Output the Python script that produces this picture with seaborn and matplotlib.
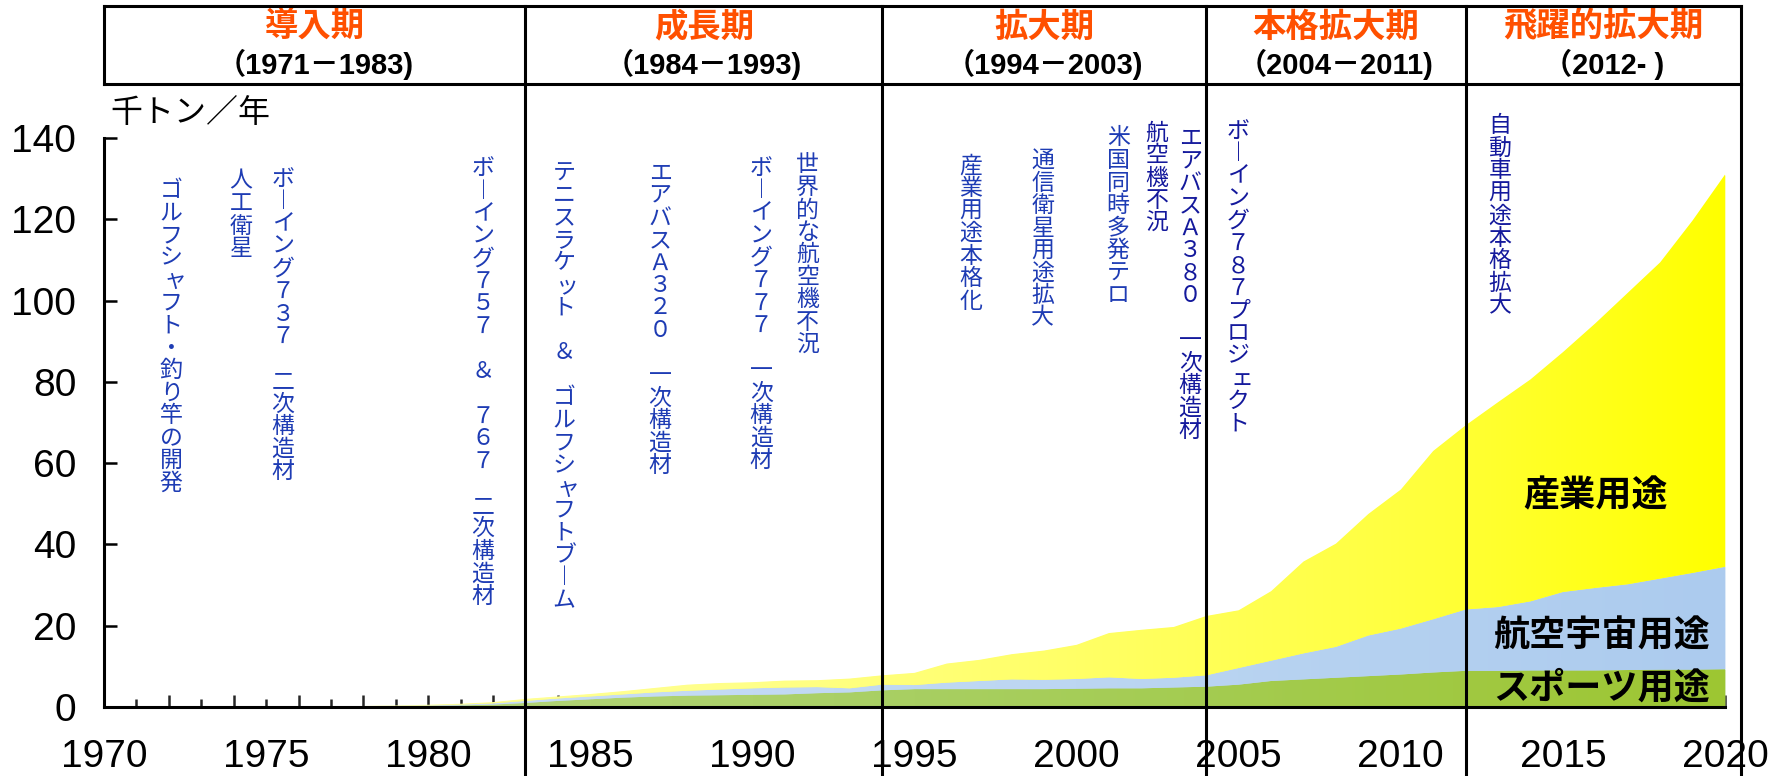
import numpy as np
import matplotlib
matplotlib.use("Agg")
import matplotlib.pyplot as plt
import matplotlib.transforms as mtransforms
from matplotlib.colors import to_rgb
import seaborn as sns

# ---------------------------------------------------------------- data
years = list(range(1970, 2021))

# carbon fibre demand, thousand tonnes per year, by application
sports = [0.0, 0.0, 0.02, 0.03, 0.05, 0.07, 0.1, 0.12, 0.15, 0.2,
          0.3, 0.4, 0.6, 1.0, 1.5, 1.9, 2.3, 2.6, 2.8, 2.9,
          3.0, 3.1, 3.4, 3.6, 4.1, 4.4, 4.4, 4.4, 4.4, 4.4,
          4.5, 4.6, 4.6, 4.8, 5.0, 5.5, 6.4, 6.8, 7.2, 7.6,
          8.0, 8.5, 8.9, 8.9, 9.0, 9.0, 9.0, 9.1, 9.2, 9.2,
          9.3]
aerospace = [0.0, 0.0, 0.0, 0.0, 0.02, 0.03, 0.05, 0.05, 0.05, 0.1,
             0.1, 0.2, 0.3, 0.5, 0.6, 0.7, 0.8, 1.0, 1.2, 1.4,
             1.6, 1.7, 1.5, 1.0, 1.4, 1.0, 1.6, 2.0, 2.4, 2.3,
             2.4, 2.7, 2.3, 2.4, 2.8, 4.1, 5.0, 6.4, 7.6, 10.0,
             11.3, 13.1, 15.1, 15.7, 17.0, 19.3, 20.3, 21.1, 22.4, 23.8,
             25.2]
industrial = [0.0, 0.0, 0.0, 0.0, 0.0, 0.0, 0.0, 0.03, 0.05, 0.1,
              0.15, 0.2, 0.3, 0.5, 0.5, 0.6, 0.8, 1.1, 1.5, 1.6,
              1.5, 1.7, 1.7, 2.4, 2.3, 3.0, 4.7, 5.2, 6.2, 7.2,
              8.4, 10.9, 12.1, 12.5, 14.6, 14.2, 17.1, 22.6, 25.4, 29.9,
              34.2, 41.4, 45.3, 50.4, 54.6, 59.0, 65.1, 71.7, 77.8, 86.7,
              96.5]
series_names = ["スポーツ用途", "航空宇宙用途", "産業用途"]

period_names = ["導入期", "成長期", "拡大期", "本格拡大期", "飛躍的拡大期"]
period_ranges = ["（1971－1983)", "（1984－1993)", "（1994－2003)",
                 "（2004－2011)", "（2012- )"]
period_edges = [1970, 1983, 1994, 2004, 2012, 2020.5]

y_ticks = [0, 20, 40, 60, 80, 100, 120, 140]
x_label_years = [1970, 1975, 1980, 1985, 1990, 1995, 2000, 2005, 2010, 2015, 2020]

events = ["ゴルフシャフト・釣り竿の開発", "人工衛星", "ボーイング７３７　二次構造材",
          "ボーイング７５７　＆　７６７　二次構造材",
          "テニスラケット　＆　ゴルフシャフトブーム", "エアバスＡ３２０　一次構造材",
          "ボーイング７７７　一次構造材", "世界的な航空機不況", "産業用途本格化",
          "通信衛星用途拡大", "米国同時多発テロ", "航空機不況",
          "エアバスＡ３８０　一次構造材", "ボーイング７８７プロジェクト",
          "自動車用途本格拡大"]

# ---------------------------------------------------------------- layout / style
event_x = [1972.07, 1974.23, 1975.52, 1981.69, 1984.19, 1987.15, 1990.27,
           1991.71, 1996.74, 1998.96, 2001.28, 2002.48, 2003.50, 2004.98,
           2013.06]
event_y = [127.0, 129.4, 129.9, 132.4, 131.4, 131.4, 132.6, 133.4, 133.1,
           134.4, 140.0, 141.2, 140.0, 141.7, 143.0]
BLUE = "#1e3cb4"
NAVY = "#14199c"
event_colors = [BLUE] * 11 + [NAVY, NAVY, NAVY, NAVY]

gradient_stops = [
    [(1970, "#bcd98a"), (1995, "#a8cf62"), (2020, "#9dc632")],   # sports
    [(1970, "#d0e2f6"), (2000, "#bcd6f2"), (2020, "#accbee")],   # aerospace
    [(1970, "#ffffa8"), (1990, "#ffff88"), (2000, "#ffff66"),
     (2010, "#ffff40"), (2020, "#ffff00")],                      # industrial
]

sns.set_theme(style="ticks")
CJK = ["Noto Sans CJK JP", "DejaVu Sans"]
NUM = ["Liberation Sans Narrow", "Liberation Sans", "DejaVu Sans"]
LAT = ["Liberation Sans", "Noto Sans CJK JP", "DejaVu Sans"]
plt.rcParams["font.family"] = CJK
plt.rcParams["axes.unicode_minus"] = False

W, H = 1770, 776
fig = plt.figure(figsize=(W / 100, H / 100), dpi=100)
fig.patch.set_facecolor("white")

x0_px, x1_px, y0_px, y1_px = 104, 1725, 707, 138
ax = fig.add_axes([x0_px / W, (H - y0_px) / H, (x1_px - x0_px) / W, (y0_px - y1_px) / H])
ax.set_facecolor("white")


def px_to_axfrac(y_px):
    return (y0_px - y_px) / (y0_px - y1_px)


# ---------------------------------------------------------------- stacked areas
polys = ax.stackplot(years, sports, aerospace, industrial,
                     colors=[s[len(s) // 2][1] for s in gradient_stops],
                     linewidth=0, zorder=2)

xs = np.linspace(1970, 2020, 400)
for poly, stops in zip(polys, gradient_stops):
    sx = [p[0] for p in stops]
    cols = np.array([to_rgb(p[1]) for p in stops])
    rgb = np.stack([np.interp(xs, sx, cols[:, k]) for k in range(3)], axis=-1)
    img = ax.imshow(rgb[None, :, :], extent=[1970, 2020, 0, 140], aspect="auto",
                    origin="lower", interpolation="bilinear", zorder=2.1)
    img.set_clip_path(poly.get_paths()[0], transform=ax.transData)

ax.set_xlim(1970, 2020)
ax.set_ylim(0, 140)

# ---------------------------------------------------------------- axes
sns.despine(ax=ax, top=True, right=True)
for side in ("left", "bottom"):
    ax.spines[side].set_linewidth(2.2)
    ax.spines[side].set_color("black")
    ax.spines[side].set_zorder(5)

ax.set_yticks(y_ticks, labels=[str(v) for v in y_ticks], fontsize=28, family=NUM)
ax.tick_params(axis="y", direction="in", length=9, width=1.8, pad=20, colors="black")

ax.set_xticks([y for y in years if y % 2 == 0], labels=[])
ax.set_xticks([y for y in years if y % 2 == 1], minor=True)
ax.tick_params(axis="x", which="major", direction="in", length=9, width=1.8)
ax.tick_params(axis="x", which="minor", direction="in", length=6, width=1.8)

sec = ax.secondary_xaxis("bottom")
sec.set_xticks(x_label_years, labels=[str(v) for v in x_label_years],
               fontsize=28, family=NUM)
sec.tick_params(length=0, pad=23, colors="black")
sec.spines["bottom"].set_visible(False)
ax.grid(False)

# ---------------------------------------------------------------- period header and dividers
top_f = px_to_axfrac(6)
bot_f = px_to_axfrac(84)
low_f = px_to_axfrac(H)
blend = mtransforms.blended_transform_factory(ax.transData, ax.transAxes)
line_kw = dict(color="black", lw=2.2, clip_on=False, transform=blend, zorder=6,
               solid_capstyle="projecting")
for f in (top_f, bot_f):
    ax.plot([period_edges[0], period_edges[-1]], [f, f], **line_kw)
ax.plot([period_edges[0], period_edges[0]], [bot_f, top_f], **line_kw)
for e in period_edges[1:]:
    ax.plot([e, e], [low_f, top_f], **line_kw)

for a, b, name, rng in zip(period_edges[:-1], period_edges[1:], period_names, period_ranges):
    xc = (a + b) / 2
    ax.text(xc, px_to_axfrac(27), name, transform=blend, ha="center", va="center",
            fontsize=24, fontweight="bold", color="#ff5000", family=CJK, clip_on=False)
    ax.text(xc, px_to_axfrac(64), rng, transform=blend, ha="center", va="center",
            fontsize=21, fontweight="bold", color="black", family=LAT, clip_on=False)

fig.text(110 / W, 1 - 113 / H, "千トン／年", ha="left", va="center",
         fontsize=23, color="black", family=CJK)

# ---------------------------------------------------------------- vertical event annotations
VERT = {"ー": "︱"}
SMALL = set("ャュョッィェァォ")
pitch = 16.2  # points between successive characters


def vertical_text(x, y, s, color):
    for i, ch in enumerate(s):
        if ch == "　":
            continue
        dx = 2.5 if ch in SMALL else 0
        tr = mtransforms.offset_copy(ax.transData, fig=fig, x=dx,
                                     y=-i * pitch, units="points")
        ax.text(x, y, VERT.get(ch, ch), transform=tr, ha="center", va="center",
                fontsize=16.5, color=color, family=CJK, clip_on=False, zorder=7)


for s, x, y, c in zip(events, event_x, event_y, event_colors):
    vertical_text(x, y, s, c)

# ---------------------------------------------------------------- series labels
label_pos = [(2016.2, 4.7), (2016.2, 17.5), (2016.0, 51.9)]
for name, (x, y) in zip(series_names, label_pos):
    ax.text(x, y, name, ha="center", va="center", fontsize=26, fontweight="bold",
            color="black", family=CJK, zorder=8)

fig.savefig("out.png", dpi=100, facecolor="white")
